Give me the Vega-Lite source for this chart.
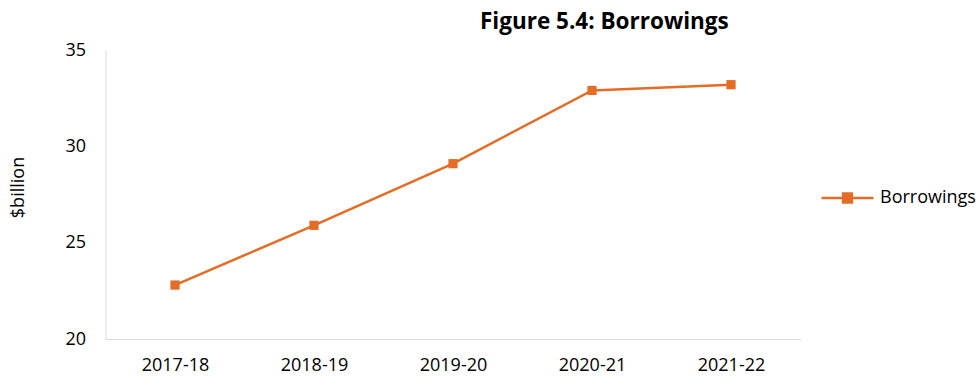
{
  "$schema": "https://vega.github.io/schema/vega-lite/v6.json",
  "width": 695,
  "height": 289,
  "autosize": {"type": "none"},
  "padding": {"left": 105.5, "top": 50, "right": 175.5, "bottom": 40},
  "background": "white",
  "config": {
    "view": {"stroke": null},
    "font": "Open Sans"
  },
  "title": {
    "text": "Figure 5.4: Borrowings",
    "anchor": "start",
    "frame": "group",
    "baseline": "alphabetic",
    "offset": -10,
    "dx": 374.5,
    "fontSize": 22.5,
    "fontWeight": "bold",
    "font": "Open Sans",
    "color": "#000000"
  },
  "data": {
    "values": [
      {"year": "2017-18", "value": 22.8, "series": "Borrowings"},
      {"year": "2018-19", "value": 25.9, "series": "Borrowings"},
      {"year": "2019-20", "value": 29.1, "series": "Borrowings"},
      {"year": "2020-21", "value": 32.9, "series": "Borrowings"},
      {"year": "2021-22", "value": 33.2, "series": "Borrowings"}
    ]
  },
  "encoding": {
    "x": {
      "field": "year",
      "type": "ordinal",
      "sort": null,
      "scale": {"type": "point", "padding": 0.5},
      "axis": {
        "title": null,
        "labelAngle": 0,
        "ticks": false,
        "grid": false,
        "domainColor": "#D9D9D9",
        "domainWidth": 1,
        "labelFontSize": 18,
        "labelColor": "#000000",
        "labelPadding": 17
      }
    },
    "y": {
      "field": "value",
      "type": "quantitative",
      "scale": {"domain": [20, 35], "nice": false, "zero": false},
      "axis": {
        "values": [20, 25, 30, 35],
        "title": "$billion",
        "titleFontSize": 18,
        "titleFontWeight": "normal",
        "titleColor": "#000000",
        "titleX": -87.5,
        "titleY": 137,
        "titleAngle": -90,
        "titleAlign": "center",
        "titleBaseline": "middle",
        "ticks": false,
        "grid": false,
        "domainColor": "#D9D9D9",
        "domainWidth": 1,
        "labelFontSize": 18,
        "labelColor": "#000000",
        "labelPadding": 20
      }
    }
  },
  "layer": [
    {
      "mark": {"type": "line", "strokeWidth": 2.5},
      "encoding": {
        "color": {
          "field": "series",
          "type": "nominal",
          "scale": {"range": ["#E36C26"]},
          "legend": {
            "title": null,
            "orient": "none",
            "legendX": 714.5,
            "legendY": 120.5,
            "padding": 0,
            "symbolType": "M-1,0L1,0M-0.17,-0.17L0.17,-0.17L0.17,0.17L-0.17,0.17Z",
            "symbolSize": 2704,
            "symbolStrokeWidth": 2.5,
            "symbolFillColor": "#E36C26",
            "symbolStrokeColor": "#E36C26",
            "labelFontSize": 18,
            "labelColor": "#000000",
            "labelOffset": 5
          }
        }
      }
    },
    {
      "mark": {"type": "point", "shape": "square", "filled": true, "size": 85, "opacity": 1},
      "encoding": {
        "color": {"value": "#E36C26"}
      }
    }
  ]
}
